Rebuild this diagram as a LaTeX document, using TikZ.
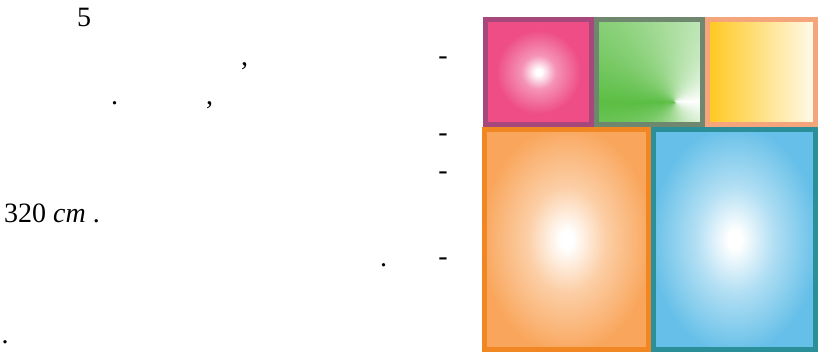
\documentclass[tikz,border=0pt]{standalone}
\usepackage{fontspec}
\setmainfont{Liberation Serif}
\definecolor{pinkline}{HTML}{A6487B}
\definecolor{pinkfill}{HTML}{EE4D86}
\definecolor{greenline}{HTML}{6F876F}
\definecolor{greenfill}{HTML}{5BBE44}
\definecolor{yellowline}{HTML}{F4A57C}
\definecolor{yellowfill}{HTML}{FFC81E}
\definecolor{orangeline}{HTML}{F08722}
\definecolor{orangefill}{HTML}{F9A65C}
\definecolor{blueline}{HTML}{2B8F9A}
\definecolor{bluefill}{HTML}{65BFE8}
\pgfdeclareradialshading{pinkglow}{\pgfpointorigin}{color(0bp)=(white); color(1.5bp)=(white); color(8bp)=(pinkfill!60!white); color(20bp)=(pinkfill); color(50bp)=(pinkfill)}
\pgfdeclareradialshading{orangeglow}{\pgfpointorigin}{color(0bp)=(white); color(2bp)=(white); color(12bp)=(orangefill!55!white); color(26bp)=(orangefill); color(50bp)=(orangefill)}
\pgfdeclareradialshading{blueglow}{\pgfpointorigin}{color(0bp)=(white); color(2bp)=(white); color(12bp)=(bluefill!50!white); color(26bp)=(bluefill); color(50bp)=(bluefill)}
\begin{document}
\begin{tikzpicture}[x=1pt, y=-1pt,
    txt/.style={inner sep=0pt, anchor=base west, font=\fontsize{28}{33}\selectfont},
    hyph/.style={txt, anchor=base east},
    tile/.style={line width=5pt}]
  \useasboundingbox (0,0) rectangle (826,359);

  % Text fragments on the left
  \node[txt] (five) at (77,26) {5};
  \node[txt] (commaA) at (241,65) {,};
  \node[hyph] (hyphA) at (448,64.5) {-};
  \node[txt] (dotA) at (111,104.5) {.};
  \node[txt] (commaB) at (206,104.5) {,};
  \node[hyph] (hyphB) at (448,141.5) {-};
  \node[hyph] (hyphC) at (448,179.5) {-};
  \node[txt] (area) at (4,222) {320 \textit{cm} .};
  \node[txt] (dotB) at (380,266) {.};
  \node[hyph] (hyphD) at (448,265.5) {-};
  \node[txt] (dotC) at (1.5,343.5) {.};

  % Top row of tiles
  \draw[tile, draw=pinkline, shading=pinkglow] (485.5,19.5) rectangle (591.5,124.5);
  \begin{scope}
    \clip (596.5,19.5) rectangle (702.5,124.5);
    \coordinate (gc) at (675,102);
    \foreach \a in {0,2,...,358}{
      \pgfmathsetmacro\m{100*(1-abs(\a+1-180)/180)}
      \fill[greenfill!\m!white] (gc) -- +(\a-1:200) -- +(\a+3:200) -- cycle;
    }
  \end{scope}
  \draw[tile, draw=greenline] (596.5,19.5) rectangle (702.5,124.5);
  \draw[tile, draw=yellowline, left color=yellowfill, right color=yellowfill!8!white] (707.5,19.5) rectangle (815.5,124.5);

  % Bottom row of tiles
  \draw[tile, draw=orangeline, shading=orangeglow] (484.5,129.5) rectangle (648.5,349.5);
  \draw[tile, draw=blueline, shading=blueglow] (653.5,129.5) rectangle (815.5,349.5);
\end{tikzpicture}
\end{document}
